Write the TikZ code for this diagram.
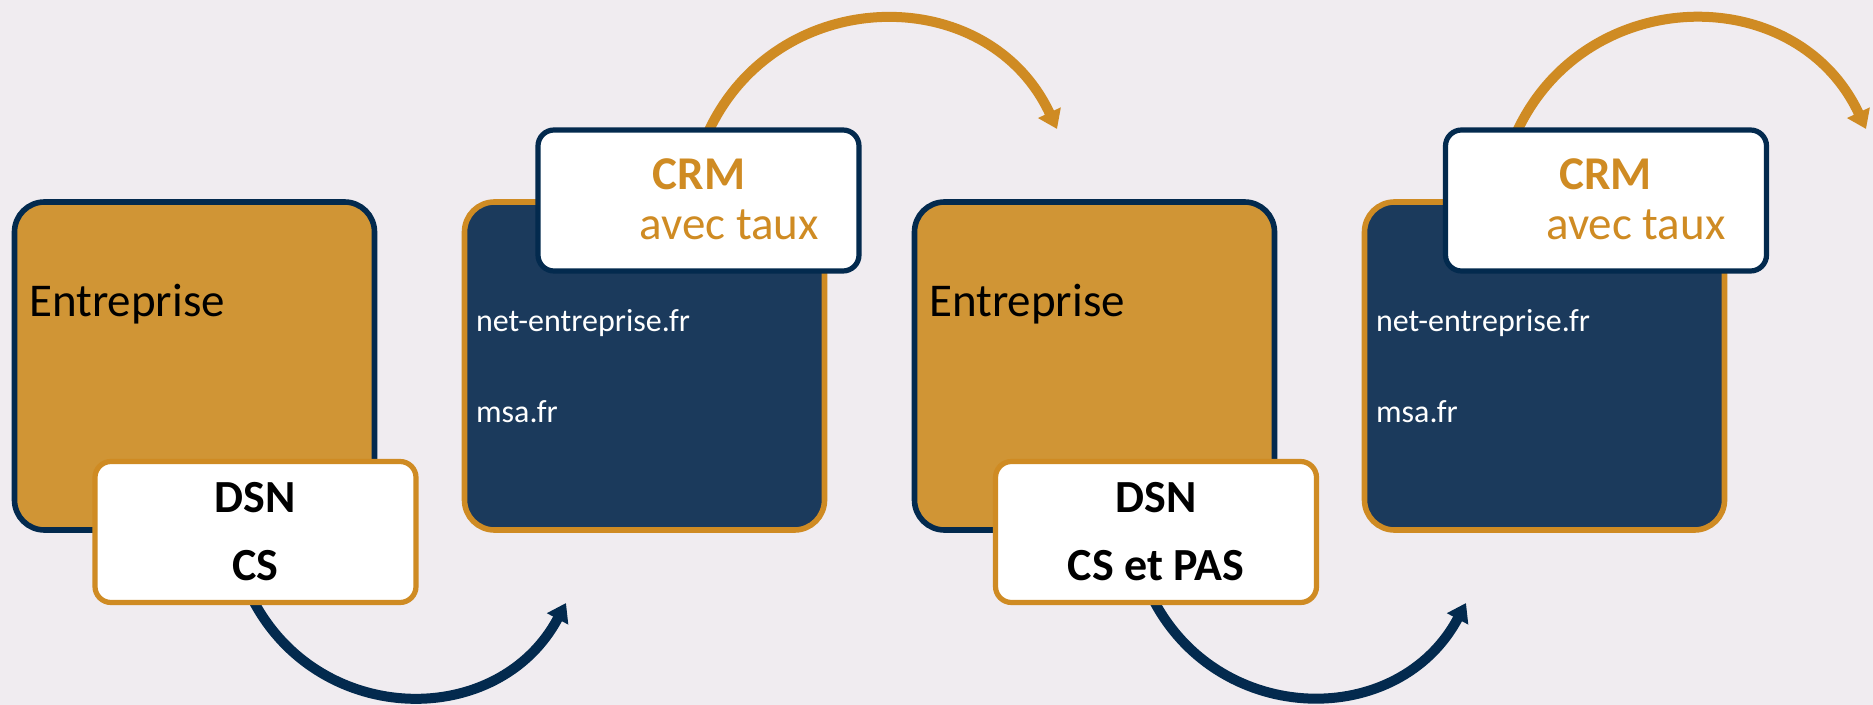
\documentclass[tikz,border=0pt]{standalone}
\usepackage{fontspec}
\setmainfont{Carlito}
\usepackage{tikz}
\usetikzlibrary{arrows.meta, positioning}
\definecolor{entcolor}{RGB}{208,149,53}
\definecolor{linkcolor}{RGB}{207,139,35}
\definecolor{sitecolor}{RGB}{27,58,92}
\definecolor{navycolor}{RGB}{3,42,78}
\definecolor{pagecolor}{RGB}{240,236,240}
\pgfdeclarelayer{paper}
\pgfdeclarelayer{links}
\pgfsetlayers{paper,links,main}

\begin{document}
\begin{tikzpicture}[
            x=0.5pt, y=0.5pt,
            node distance=225pt,
            block/.style={rectangle, rounded corners=15pt, line width=2.8pt, minimum width=180pt, minimum height=164pt},
            entblock/.style={block, draw=navycolor, fill=entcolor},
            siteblock/.style={block, draw=linkcolor, fill=sitecolor},
            tag/.style={rectangle, rounded corners=8pt, line width=2.6pt, fill=white, minimum width=160.5pt, minimum height=70.5pt},
            dsntag/.style={tag, draw=linkcolor, align=center, font=\fontsize{23}{34}\selectfont\bfseries},
            crmtag/.style={tag, draw=navycolor},
            bigtext/.style={anchor=base west, inner sep=0pt, font=\fontsize{23.5}{28}\selectfont},
            sitetext/.style={anchor=base west, inner sep=0pt, text=white, font=\fontsize{16}{19}\selectfont},
            crmtext/.style={bigtext, text=linkcolor},
            crmarrow/.style={-{Triangle[width=12pt, length=9pt]}, line width=5pt, draw=linkcolor},
            dsnarrow/.style={-{Triangle[width=11.5pt, length=9pt]}, line width=5pt, draw=navycolor}
        ]
            \begin{pgfonlayer}{paper}
            \fill[pagecolor] (0,0) rectangle (1873,-705);
            \end{pgfonlayer}
            \useasboundingbox (0,0) rectangle (1873,-705);

            % big boxes
            \node[entblock] (ent1) at (194.5,-366) {};
            \node[siteblock, right of=ent1] (site1) {};
            \node[entblock, right of=site1] (ent2) {};
            \node[siteblock, right of=ent2] (site2) {};

            \node[bigtext] (entlabel1) at ([shift={(17,-117)}]ent1.north west) {Entreprise};
            \node[bigtext] (entlabel2) at ([shift={(17,-117)}]ent2.north west) {Entreprise};
            \node[sitetext] (net1) at ([shift={(14,-132)}]site1.north west) {net-entreprise.fr};
            \node[sitetext] (msa1) at ([shift={(14,-223)}]site1.north west) {msa.fr};
            \node[sitetext] (net2) at ([shift={(14,-132)}]site2.north west) {net-entreprise.fr};
            \node[sitetext] (msa2) at ([shift={(14,-223)}]site2.north west) {msa.fr};

            % tags
            \node[dsntag] (dsn1) at ([shift={(61,-166)}]ent1.center) {DSN\\CS};
            \node[dsntag] (dsn2) at ([shift={(61.5,-166)}]ent2.center) {DSN\\CS et PAS};
            \node[crmtag] (crm1) at ([shift={(54,165.5)}]site1.center) {};
            \node[crmtag] (crm2) at ([shift={(61.5,165.5)}]site2.center) {};

            \node[crmtext, font=\fontsize{23.5}{28}\selectfont\bfseries] (crmname1) at ([shift={(117,-62)}]crm1.north west) {CRM};
            \node[crmtext] (taux1) at ([shift={(104,-112)}]crm1.north west) {avec taux};
            \node[crmtext, font=\fontsize{23.5}{28}\selectfont\bfseries] (crmname2) at ([shift={(116,-62)}]crm2.north west) {CRM};
            \node[crmtext] (taux2) at ([shift={(103,-112)}]crm2.north west) {avec taux};

            % arrows
            \coordinate (dsnend1) at (566,-603);
            \coordinate (dsnend2) at (1466,-603);
            \coordinate (crmend1) at (1057,-129);
            \coordinate (crmend2) at (1866,-129);
            \begin{pgfonlayer}{links}
            \draw[dsnarrow] ([xshift=-1pt, yshift=2pt]dsn1.south) to[out=-62, in=-118, looseness=1.17] (dsnend1);
            \draw[dsnarrow] ([xshift=-1pt, yshift=2pt]dsn2.south) to[out=-62, in=-118, looseness=1.17] (dsnend2);
            \draw[crmarrow] ([xshift=5pt, yshift=-2pt]crm1.north) to[out=65, in=115, looseness=1.2] (crmend1);
            \draw[crmarrow] ([xshift=-44.5pt, yshift=-2pt]crm2.north) to[out=65, in=115, looseness=1.2] (crmend2);
            \end{pgfonlayer}
        \end{tikzpicture}
\end{document}
